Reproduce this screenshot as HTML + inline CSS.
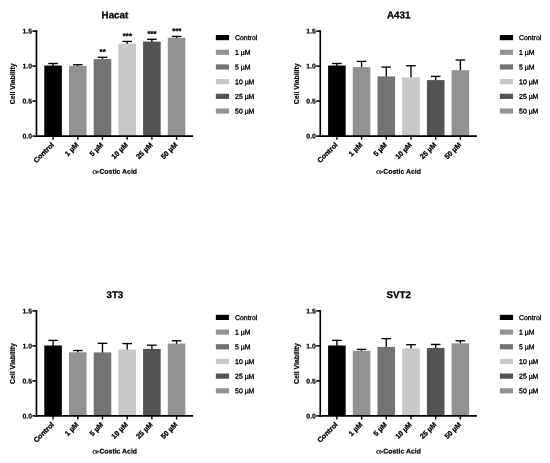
<!DOCTYPE html>
<html lang="en">
<head>
<meta charset="utf-8">
<title>Cell viability</title>
<style>
html,body{margin:0;padding:0;background:#fff;}
body{width:550px;height:463px;overflow:hidden;}
svg{display:block;font-family:"Liberation Sans",sans-serif;fill:#000;}
text{stroke:#000;stroke-width:0.2px;}
text.lg{stroke-width:0.32px;}
text.al{font-family:"Liberation Serif","DejaVu Serif",serif;font-weight:normal;font-size:7.2px;stroke-width:0.1px;}
text.ti{stroke-width:0.3px;}
text.tk{stroke-width:0.28px;}
text.st{stroke-width:0.3px;}
</style>
</head>
<body>
<svg width="550" height="463" viewBox="0 0 550 463">
<rect x="0" y="0" width="550" height="463" fill="#ffffff"/>
<g>
<text transform="translate(114.9 18.3) rotate(0.03)" font-size="9.75" font-weight="bold" text-anchor="middle" class="ti">Hacat</text>
<line x1="53.08" y1="66.04" x2="53.08" y2="63.51" stroke="#000" stroke-width="1.35"/>
<line x1="48.28" y1="63.51" x2="57.88" y2="63.51" stroke="#000" stroke-width="1.35"/>
<rect x="44.28" y="65.54" width="17.6" height="70.56" fill="#000000"/>
<line x1="53.08" y1="136.1" x2="53.08" y2="139.8" stroke="#000" stroke-width="1.4"/>
<text transform="translate(54.38 145.3) rotate(-45)" font-size="7.15" font-weight="bold" text-anchor="end" class="tk">Control</text>
<line x1="77.78" y1="66.39" x2="77.78" y2="64.77" stroke="#000" stroke-width="1.35"/>
<line x1="72.98" y1="64.77" x2="82.58" y2="64.77" stroke="#000" stroke-width="1.35"/>
<rect x="68.98" y="65.89" width="17.6" height="70.21" fill="#929292"/>
<line x1="77.78" y1="136.1" x2="77.78" y2="139.8" stroke="#000" stroke-width="1.4"/>
<text transform="translate(79.08 145.3) rotate(-45)" font-size="7.15" font-weight="bold" text-anchor="end" class="tk">1 µM</text>
<line x1="102.48" y1="59.6" x2="102.48" y2="57.28" stroke="#000" stroke-width="1.35"/>
<line x1="97.68" y1="57.28" x2="107.28" y2="57.28" stroke="#000" stroke-width="1.35"/>
<rect x="93.68" y="59.1" width="17.6" height="77" fill="#737373"/>
<text transform="translate(102.68 54.58) rotate(0.03)" font-size="7.9" font-weight="bold" text-anchor="middle" class="st">**</text>
<line x1="102.48" y1="136.1" x2="102.48" y2="139.8" stroke="#000" stroke-width="1.4"/>
<text transform="translate(103.78 145.3) rotate(-45)" font-size="7.15" font-weight="bold" text-anchor="end" class="tk">5 µM</text>
<line x1="127.18" y1="44.2" x2="127.18" y2="41.46" stroke="#000" stroke-width="1.35"/>
<line x1="122.38" y1="41.46" x2="131.98" y2="41.46" stroke="#000" stroke-width="1.35"/>
<rect x="118.38" y="43.7" width="17.6" height="92.4" fill="#c8c8c8"/>
<text transform="translate(127.38 38.76) rotate(0.03)" font-size="7.9" font-weight="bold" text-anchor="middle" class="st">***</text>
<line x1="127.18" y1="136.1" x2="127.18" y2="139.8" stroke="#000" stroke-width="1.4"/>
<text transform="translate(128.48 145.3) rotate(-45)" font-size="7.15" font-weight="bold" text-anchor="end" class="tk">10 µM</text>
<line x1="151.88" y1="42.1" x2="151.88" y2="39.29" stroke="#000" stroke-width="1.35"/>
<line x1="147.08" y1="39.29" x2="156.68" y2="39.29" stroke="#000" stroke-width="1.35"/>
<rect x="143.08" y="41.6" width="17.6" height="94.5" fill="#535353"/>
<text transform="translate(152.08 36.59) rotate(0.03)" font-size="7.9" font-weight="bold" text-anchor="middle" class="st">***</text>
<line x1="151.88" y1="136.1" x2="151.88" y2="139.8" stroke="#000" stroke-width="1.4"/>
<text transform="translate(153.18 145.3) rotate(-45)" font-size="7.15" font-weight="bold" text-anchor="end" class="tk">25 µM</text>
<line x1="176.58" y1="38.25" x2="176.58" y2="36.42" stroke="#000" stroke-width="1.35"/>
<line x1="171.78" y1="36.42" x2="181.38" y2="36.42" stroke="#000" stroke-width="1.35"/>
<rect x="167.78" y="37.75" width="17.6" height="98.35" fill="#929292"/>
<text transform="translate(176.78 33.72) rotate(0.03)" font-size="7.9" font-weight="bold" text-anchor="middle" class="st">***</text>
<line x1="176.58" y1="136.1" x2="176.58" y2="139.8" stroke="#000" stroke-width="1.4"/>
<text transform="translate(177.88 145.3) rotate(-45)" font-size="7.15" font-weight="bold" text-anchor="end" class="tk">50 µM</text>
<line x1="36.47" y1="30.3" x2="36.47" y2="136.9" stroke="#000" stroke-width="1.65"/>
<line x1="35.7" y1="136.05" x2="193.1" y2="136.05" stroke="#000" stroke-width="1.65"/>
<line x1="32.4" y1="136.1" x2="36.5" y2="136.1" stroke="#000" stroke-width="1.55"/>
<text transform="translate(32.1 138.6) rotate(0.03)" font-size="6.9" font-weight="bold" text-anchor="end">0.0</text>
<line x1="32.4" y1="101.1" x2="36.5" y2="101.1" stroke="#000" stroke-width="1.55"/>
<text transform="translate(32.1 103.6) rotate(0.03)" font-size="6.9" font-weight="bold" text-anchor="end">0.5</text>
<line x1="32.4" y1="66.1" x2="36.5" y2="66.1" stroke="#000" stroke-width="1.55"/>
<text transform="translate(32.1 68.6) rotate(0.03)" font-size="6.9" font-weight="bold" text-anchor="end">1.0</text>
<line x1="32.4" y1="31.1" x2="36.5" y2="31.1" stroke="#000" stroke-width="1.55"/>
<text transform="translate(32.1 33.6) rotate(0.03)" font-size="6.9" font-weight="bold" text-anchor="end">1.5</text>
<text transform="translate(15.3 83.8) rotate(-90)" font-size="6.9" font-weight="bold" text-anchor="middle">Cell Viability</text>
<text transform="translate(92.2 173.8) rotate(0.03) scale(1.42 1)" class="al">α</text>
<text transform="translate(97.1 173.8) rotate(0.03)" font-size="6.9" font-weight="bold">-Costic Acid</text>
<rect x="215.85" y="35" width="13.2" height="5.2" fill="#000000"/>
<text transform="translate(235.05 40.1) rotate(0.03)" font-size="6.9" class="lg">Control</text>
<rect x="215.85" y="49.68" width="13.2" height="5.2" fill="#929292"/>
<text transform="translate(235.05 54.78) rotate(0.03)" font-size="6.9" class="lg">1 µM</text>
<rect x="215.85" y="64.36" width="13.2" height="5.2" fill="#737373"/>
<text transform="translate(235.05 69.46) rotate(0.03)" font-size="6.9" class="lg">5 µM</text>
<rect x="215.85" y="79.04" width="13.2" height="5.2" fill="#c8c8c8"/>
<text transform="translate(235.05 84.14) rotate(0.03)" font-size="6.9" class="lg">10 µM</text>
<rect x="215.85" y="93.72" width="13.2" height="5.2" fill="#535353"/>
<text transform="translate(235.05 98.82) rotate(0.03)" font-size="6.9" class="lg">25 µM</text>
<rect x="215.85" y="108.4" width="13.2" height="5.2" fill="#929292"/>
<text transform="translate(235.05 113.5) rotate(0.03)" font-size="6.9" class="lg">50 µM</text>
</g>
<g>
<text transform="translate(398.7 18.3) rotate(0.03)" font-size="9.75" font-weight="bold" text-anchor="middle" class="ti">A431</text>
<line x1="336.88" y1="66.04" x2="336.88" y2="63.51" stroke="#000" stroke-width="1.35"/>
<line x1="332.08" y1="63.51" x2="341.68" y2="63.51" stroke="#000" stroke-width="1.35"/>
<rect x="328.08" y="65.54" width="17.6" height="70.56" fill="#000000"/>
<line x1="336.88" y1="136.1" x2="336.88" y2="139.8" stroke="#000" stroke-width="1.4"/>
<text transform="translate(338.18 145.3) rotate(-45)" font-size="7.15" font-weight="bold" text-anchor="end" class="tk">Control</text>
<line x1="361.58" y1="67.58" x2="361.58" y2="61.41" stroke="#000" stroke-width="1.35"/>
<line x1="356.78" y1="61.41" x2="366.38" y2="61.41" stroke="#000" stroke-width="1.35"/>
<rect x="352.78" y="67.08" width="17.6" height="69.02" fill="#929292"/>
<line x1="361.58" y1="136.1" x2="361.58" y2="139.8" stroke="#000" stroke-width="1.4"/>
<text transform="translate(362.88 145.3) rotate(-45)" font-size="7.15" font-weight="bold" text-anchor="end" class="tk">1 µM</text>
<line x1="386.28" y1="76.89" x2="386.28" y2="67.08" stroke="#000" stroke-width="1.35"/>
<line x1="381.48" y1="67.08" x2="391.08" y2="67.08" stroke="#000" stroke-width="1.35"/>
<rect x="377.48" y="76.39" width="17.6" height="59.71" fill="#737373"/>
<line x1="386.28" y1="136.1" x2="386.28" y2="139.8" stroke="#000" stroke-width="1.4"/>
<text transform="translate(387.58 145.3) rotate(-45)" font-size="7.15" font-weight="bold" text-anchor="end" class="tk">5 µM</text>
<line x1="410.98" y1="77.87" x2="410.98" y2="65.75" stroke="#000" stroke-width="1.35"/>
<line x1="406.18" y1="65.75" x2="415.78" y2="65.75" stroke="#000" stroke-width="1.35"/>
<rect x="402.18" y="77.37" width="17.6" height="58.73" fill="#c8c8c8"/>
<line x1="410.98" y1="136.1" x2="410.98" y2="139.8" stroke="#000" stroke-width="1.4"/>
<text transform="translate(412.28 145.3) rotate(-45)" font-size="7.15" font-weight="bold" text-anchor="end" class="tk">10 µM</text>
<line x1="435.68" y1="80.6" x2="435.68" y2="76.39" stroke="#000" stroke-width="1.35"/>
<line x1="430.88" y1="76.39" x2="440.48" y2="76.39" stroke="#000" stroke-width="1.35"/>
<rect x="426.88" y="80.1" width="17.6" height="56" fill="#535353"/>
<line x1="435.68" y1="136.1" x2="435.68" y2="139.8" stroke="#000" stroke-width="1.4"/>
<text transform="translate(436.98 145.3) rotate(-45)" font-size="7.15" font-weight="bold" text-anchor="end" class="tk">25 µM</text>
<line x1="460.38" y1="70.73" x2="460.38" y2="60.01" stroke="#000" stroke-width="1.35"/>
<line x1="455.58" y1="60.01" x2="465.18" y2="60.01" stroke="#000" stroke-width="1.35"/>
<rect x="451.58" y="70.23" width="17.6" height="65.87" fill="#929292"/>
<line x1="460.38" y1="136.1" x2="460.38" y2="139.8" stroke="#000" stroke-width="1.4"/>
<text transform="translate(461.68 145.3) rotate(-45)" font-size="7.15" font-weight="bold" text-anchor="end" class="tk">50 µM</text>
<line x1="320.27" y1="30.3" x2="320.27" y2="136.9" stroke="#000" stroke-width="1.65"/>
<line x1="319.5" y1="136.05" x2="476.9" y2="136.05" stroke="#000" stroke-width="1.65"/>
<line x1="316.2" y1="136.1" x2="320.3" y2="136.1" stroke="#000" stroke-width="1.55"/>
<text transform="translate(315.9 138.6) rotate(0.03)" font-size="6.9" font-weight="bold" text-anchor="end">0.0</text>
<line x1="316.2" y1="101.1" x2="320.3" y2="101.1" stroke="#000" stroke-width="1.55"/>
<text transform="translate(315.9 103.6) rotate(0.03)" font-size="6.9" font-weight="bold" text-anchor="end">0.5</text>
<line x1="316.2" y1="66.1" x2="320.3" y2="66.1" stroke="#000" stroke-width="1.55"/>
<text transform="translate(315.9 68.6) rotate(0.03)" font-size="6.9" font-weight="bold" text-anchor="end">1.0</text>
<line x1="316.2" y1="31.1" x2="320.3" y2="31.1" stroke="#000" stroke-width="1.55"/>
<text transform="translate(315.9 33.6) rotate(0.03)" font-size="6.9" font-weight="bold" text-anchor="end">1.5</text>
<text transform="translate(299.1 83.8) rotate(-90)" font-size="6.9" font-weight="bold" text-anchor="middle">Cell Viability</text>
<text transform="translate(376 173.8) rotate(0.03) scale(1.42 1)" class="al">α</text>
<text transform="translate(380.9 173.8) rotate(0.03)" font-size="6.9" font-weight="bold">-Costic Acid</text>
<rect x="499.85" y="35" width="13.2" height="5.2" fill="#000000"/>
<text transform="translate(519.05 40.1) rotate(0.03)" font-size="6.9" class="lg">Control</text>
<rect x="499.85" y="49.68" width="13.2" height="5.2" fill="#929292"/>
<text transform="translate(519.05 54.78) rotate(0.03)" font-size="6.9" class="lg">1 µM</text>
<rect x="499.85" y="64.36" width="13.2" height="5.2" fill="#737373"/>
<text transform="translate(519.05 69.46) rotate(0.03)" font-size="6.9" class="lg">5 µM</text>
<rect x="499.85" y="79.04" width="13.2" height="5.2" fill="#c8c8c8"/>
<text transform="translate(519.05 84.14) rotate(0.03)" font-size="6.9" class="lg">10 µM</text>
<rect x="499.85" y="93.72" width="13.2" height="5.2" fill="#535353"/>
<text transform="translate(519.05 98.82) rotate(0.03)" font-size="6.9" class="lg">25 µM</text>
<rect x="499.85" y="108.4" width="13.2" height="5.2" fill="#929292"/>
<text transform="translate(519.05 113.5) rotate(0.03)" font-size="6.9" class="lg">50 µM</text>
</g>
<g>
<text transform="translate(114.9 298.1) rotate(0.03)" font-size="9.75" font-weight="bold" text-anchor="middle" class="ti">3T3</text>
<line x1="53.08" y1="345.98" x2="53.08" y2="340.37" stroke="#000" stroke-width="1.35"/>
<line x1="48.28" y1="340.37" x2="57.88" y2="340.37" stroke="#000" stroke-width="1.35"/>
<rect x="44.28" y="345.48" width="17.6" height="70.42" fill="#000000"/>
<line x1="53.08" y1="415.9" x2="53.08" y2="419.6" stroke="#000" stroke-width="1.4"/>
<text transform="translate(54.38 425.1) rotate(-45)" font-size="7.15" font-weight="bold" text-anchor="end" class="tk">Control</text>
<line x1="77.78" y1="352.77" x2="77.78" y2="350.52" stroke="#000" stroke-width="1.35"/>
<line x1="72.98" y1="350.52" x2="82.58" y2="350.52" stroke="#000" stroke-width="1.35"/>
<rect x="68.98" y="352.27" width="17.6" height="63.63" fill="#929292"/>
<line x1="77.78" y1="415.9" x2="77.78" y2="419.6" stroke="#000" stroke-width="1.4"/>
<text transform="translate(79.08 425.1) rotate(-45)" font-size="7.15" font-weight="bold" text-anchor="end" class="tk">1 µM</text>
<line x1="102.48" y1="352.91" x2="102.48" y2="343.31" stroke="#000" stroke-width="1.35"/>
<line x1="97.68" y1="343.31" x2="107.28" y2="343.31" stroke="#000" stroke-width="1.35"/>
<rect x="93.68" y="352.41" width="17.6" height="63.49" fill="#737373"/>
<line x1="102.48" y1="415.9" x2="102.48" y2="419.6" stroke="#000" stroke-width="1.4"/>
<text transform="translate(103.78 425.1) rotate(-45)" font-size="7.15" font-weight="bold" text-anchor="end" class="tk">5 µM</text>
<line x1="127.18" y1="350.04" x2="127.18" y2="343.59" stroke="#000" stroke-width="1.35"/>
<line x1="122.38" y1="343.59" x2="131.98" y2="343.59" stroke="#000" stroke-width="1.35"/>
<rect x="118.38" y="349.54" width="17.6" height="66.36" fill="#c8c8c8"/>
<line x1="127.18" y1="415.9" x2="127.18" y2="419.6" stroke="#000" stroke-width="1.4"/>
<text transform="translate(128.48 425.1) rotate(-45)" font-size="7.15" font-weight="bold" text-anchor="end" class="tk">10 µM</text>
<line x1="151.88" y1="349.34" x2="151.88" y2="345.2" stroke="#000" stroke-width="1.35"/>
<line x1="147.08" y1="345.2" x2="156.68" y2="345.2" stroke="#000" stroke-width="1.35"/>
<rect x="143.08" y="348.84" width="17.6" height="67.06" fill="#535353"/>
<line x1="151.88" y1="415.9" x2="151.88" y2="419.6" stroke="#000" stroke-width="1.4"/>
<text transform="translate(153.18 425.1) rotate(-45)" font-size="7.15" font-weight="bold" text-anchor="end" class="tk">25 µM</text>
<line x1="176.58" y1="344.09" x2="176.58" y2="340.79" stroke="#000" stroke-width="1.35"/>
<line x1="171.78" y1="340.79" x2="181.38" y2="340.79" stroke="#000" stroke-width="1.35"/>
<rect x="167.78" y="343.59" width="17.6" height="72.31" fill="#929292"/>
<line x1="176.58" y1="415.9" x2="176.58" y2="419.6" stroke="#000" stroke-width="1.4"/>
<text transform="translate(177.88 425.1) rotate(-45)" font-size="7.15" font-weight="bold" text-anchor="end" class="tk">50 µM</text>
<line x1="36.47" y1="310.1" x2="36.47" y2="416.7" stroke="#000" stroke-width="1.65"/>
<line x1="35.7" y1="415.85" x2="193.1" y2="415.85" stroke="#000" stroke-width="1.65"/>
<line x1="32.4" y1="415.9" x2="36.5" y2="415.9" stroke="#000" stroke-width="1.55"/>
<text transform="translate(32.1 418.4) rotate(0.03)" font-size="6.9" font-weight="bold" text-anchor="end">0.0</text>
<line x1="32.4" y1="380.9" x2="36.5" y2="380.9" stroke="#000" stroke-width="1.55"/>
<text transform="translate(32.1 383.4) rotate(0.03)" font-size="6.9" font-weight="bold" text-anchor="end">0.5</text>
<line x1="32.4" y1="345.9" x2="36.5" y2="345.9" stroke="#000" stroke-width="1.55"/>
<text transform="translate(32.1 348.4) rotate(0.03)" font-size="6.9" font-weight="bold" text-anchor="end">1.0</text>
<line x1="32.4" y1="310.9" x2="36.5" y2="310.9" stroke="#000" stroke-width="1.55"/>
<text transform="translate(32.1 313.4) rotate(0.03)" font-size="6.9" font-weight="bold" text-anchor="end">1.5</text>
<text transform="translate(15.3 363.6) rotate(-90)" font-size="6.9" font-weight="bold" text-anchor="middle">Cell Viability</text>
<text transform="translate(92.2 453.6) rotate(0.03) scale(1.42 1)" class="al">α</text>
<text transform="translate(97.1 453.6) rotate(0.03)" font-size="6.9" font-weight="bold">-Costic Acid</text>
<rect x="215.85" y="314.8" width="13.2" height="5.2" fill="#000000"/>
<text transform="translate(235.05 319.9) rotate(0.03)" font-size="6.9" class="lg">Control</text>
<rect x="215.85" y="329.48" width="13.2" height="5.2" fill="#929292"/>
<text transform="translate(235.05 334.58) rotate(0.03)" font-size="6.9" class="lg">1 µM</text>
<rect x="215.85" y="344.16" width="13.2" height="5.2" fill="#737373"/>
<text transform="translate(235.05 349.26) rotate(0.03)" font-size="6.9" class="lg">5 µM</text>
<rect x="215.85" y="358.84" width="13.2" height="5.2" fill="#c8c8c8"/>
<text transform="translate(235.05 363.94) rotate(0.03)" font-size="6.9" class="lg">10 µM</text>
<rect x="215.85" y="373.52" width="13.2" height="5.2" fill="#535353"/>
<text transform="translate(235.05 378.62) rotate(0.03)" font-size="6.9" class="lg">25 µM</text>
<rect x="215.85" y="388.2" width="13.2" height="5.2" fill="#929292"/>
<text transform="translate(235.05 393.3) rotate(0.03)" font-size="6.9" class="lg">50 µM</text>
</g>
<g>
<text transform="translate(398.7 298.1) rotate(0.03)" font-size="9.75" font-weight="bold" text-anchor="middle" class="ti">SVT2</text>
<line x1="336.88" y1="345.98" x2="336.88" y2="340.37" stroke="#000" stroke-width="1.35"/>
<line x1="332.08" y1="340.37" x2="341.68" y2="340.37" stroke="#000" stroke-width="1.35"/>
<rect x="328.08" y="345.48" width="17.6" height="70.42" fill="#000000"/>
<line x1="336.88" y1="415.9" x2="336.88" y2="419.6" stroke="#000" stroke-width="1.4"/>
<text transform="translate(338.18 425.1) rotate(-45)" font-size="7.15" font-weight="bold" text-anchor="end" class="tk">Control</text>
<line x1="361.58" y1="351.3" x2="361.58" y2="349.4" stroke="#000" stroke-width="1.35"/>
<line x1="356.78" y1="349.4" x2="366.38" y2="349.4" stroke="#000" stroke-width="1.35"/>
<rect x="352.78" y="350.8" width="17.6" height="65.1" fill="#929292"/>
<line x1="361.58" y1="415.9" x2="361.58" y2="419.6" stroke="#000" stroke-width="1.4"/>
<text transform="translate(362.88 425.1) rotate(-45)" font-size="7.15" font-weight="bold" text-anchor="end" class="tk">1 µM</text>
<line x1="386.28" y1="347.38" x2="386.28" y2="338.62" stroke="#000" stroke-width="1.35"/>
<line x1="381.48" y1="338.62" x2="391.08" y2="338.62" stroke="#000" stroke-width="1.35"/>
<rect x="377.48" y="346.88" width="17.6" height="69.02" fill="#737373"/>
<line x1="386.28" y1="415.9" x2="386.28" y2="419.6" stroke="#000" stroke-width="1.4"/>
<text transform="translate(387.58 425.1) rotate(-45)" font-size="7.15" font-weight="bold" text-anchor="end" class="tk">5 µM</text>
<line x1="410.98" y1="348.85" x2="410.98" y2="344.71" stroke="#000" stroke-width="1.35"/>
<line x1="406.18" y1="344.71" x2="415.78" y2="344.71" stroke="#000" stroke-width="1.35"/>
<rect x="402.18" y="348.35" width="17.6" height="67.55" fill="#c8c8c8"/>
<line x1="410.98" y1="415.9" x2="410.98" y2="419.6" stroke="#000" stroke-width="1.4"/>
<text transform="translate(412.28 425.1) rotate(-45)" font-size="7.15" font-weight="bold" text-anchor="end" class="tk">10 µM</text>
<line x1="435.68" y1="348.43" x2="435.68" y2="344.43" stroke="#000" stroke-width="1.35"/>
<line x1="430.88" y1="344.43" x2="440.48" y2="344.43" stroke="#000" stroke-width="1.35"/>
<rect x="426.88" y="347.93" width="17.6" height="67.97" fill="#535353"/>
<line x1="435.68" y1="415.9" x2="435.68" y2="419.6" stroke="#000" stroke-width="1.4"/>
<text transform="translate(436.98 425.1) rotate(-45)" font-size="7.15" font-weight="bold" text-anchor="end" class="tk">25 µM</text>
<line x1="460.38" y1="343.81" x2="460.38" y2="340.79" stroke="#000" stroke-width="1.35"/>
<line x1="455.58" y1="340.79" x2="465.18" y2="340.79" stroke="#000" stroke-width="1.35"/>
<rect x="451.58" y="343.31" width="17.6" height="72.59" fill="#929292"/>
<line x1="460.38" y1="415.9" x2="460.38" y2="419.6" stroke="#000" stroke-width="1.4"/>
<text transform="translate(461.68 425.1) rotate(-45)" font-size="7.15" font-weight="bold" text-anchor="end" class="tk">50 µM</text>
<line x1="320.27" y1="310.1" x2="320.27" y2="416.7" stroke="#000" stroke-width="1.65"/>
<line x1="319.5" y1="415.85" x2="476.9" y2="415.85" stroke="#000" stroke-width="1.65"/>
<line x1="316.2" y1="415.9" x2="320.3" y2="415.9" stroke="#000" stroke-width="1.55"/>
<text transform="translate(315.9 418.4) rotate(0.03)" font-size="6.9" font-weight="bold" text-anchor="end">0.0</text>
<line x1="316.2" y1="380.9" x2="320.3" y2="380.9" stroke="#000" stroke-width="1.55"/>
<text transform="translate(315.9 383.4) rotate(0.03)" font-size="6.9" font-weight="bold" text-anchor="end">0.5</text>
<line x1="316.2" y1="345.9" x2="320.3" y2="345.9" stroke="#000" stroke-width="1.55"/>
<text transform="translate(315.9 348.4) rotate(0.03)" font-size="6.9" font-weight="bold" text-anchor="end">1.0</text>
<line x1="316.2" y1="310.9" x2="320.3" y2="310.9" stroke="#000" stroke-width="1.55"/>
<text transform="translate(315.9 313.4) rotate(0.03)" font-size="6.9" font-weight="bold" text-anchor="end">1.5</text>
<text transform="translate(299.1 363.6) rotate(-90)" font-size="6.9" font-weight="bold" text-anchor="middle">Cell Viability</text>
<text transform="translate(376 453.6) rotate(0.03) scale(1.42 1)" class="al">α</text>
<text transform="translate(380.9 453.6) rotate(0.03)" font-size="6.9" font-weight="bold">-Costic Acid</text>
<rect x="499.85" y="314.8" width="13.2" height="5.2" fill="#000000"/>
<text transform="translate(519.05 319.9) rotate(0.03)" font-size="6.9" class="lg">Control</text>
<rect x="499.85" y="329.48" width="13.2" height="5.2" fill="#929292"/>
<text transform="translate(519.05 334.58) rotate(0.03)" font-size="6.9" class="lg">1 µM</text>
<rect x="499.85" y="344.16" width="13.2" height="5.2" fill="#737373"/>
<text transform="translate(519.05 349.26) rotate(0.03)" font-size="6.9" class="lg">5 µM</text>
<rect x="499.85" y="358.84" width="13.2" height="5.2" fill="#c8c8c8"/>
<text transform="translate(519.05 363.94) rotate(0.03)" font-size="6.9" class="lg">10 µM</text>
<rect x="499.85" y="373.52" width="13.2" height="5.2" fill="#535353"/>
<text transform="translate(519.05 378.62) rotate(0.03)" font-size="6.9" class="lg">25 µM</text>
<rect x="499.85" y="388.2" width="13.2" height="5.2" fill="#929292"/>
<text transform="translate(519.05 393.3) rotate(0.03)" font-size="6.9" class="lg">50 µM</text>
</g>
</svg>
</body>
</html>
